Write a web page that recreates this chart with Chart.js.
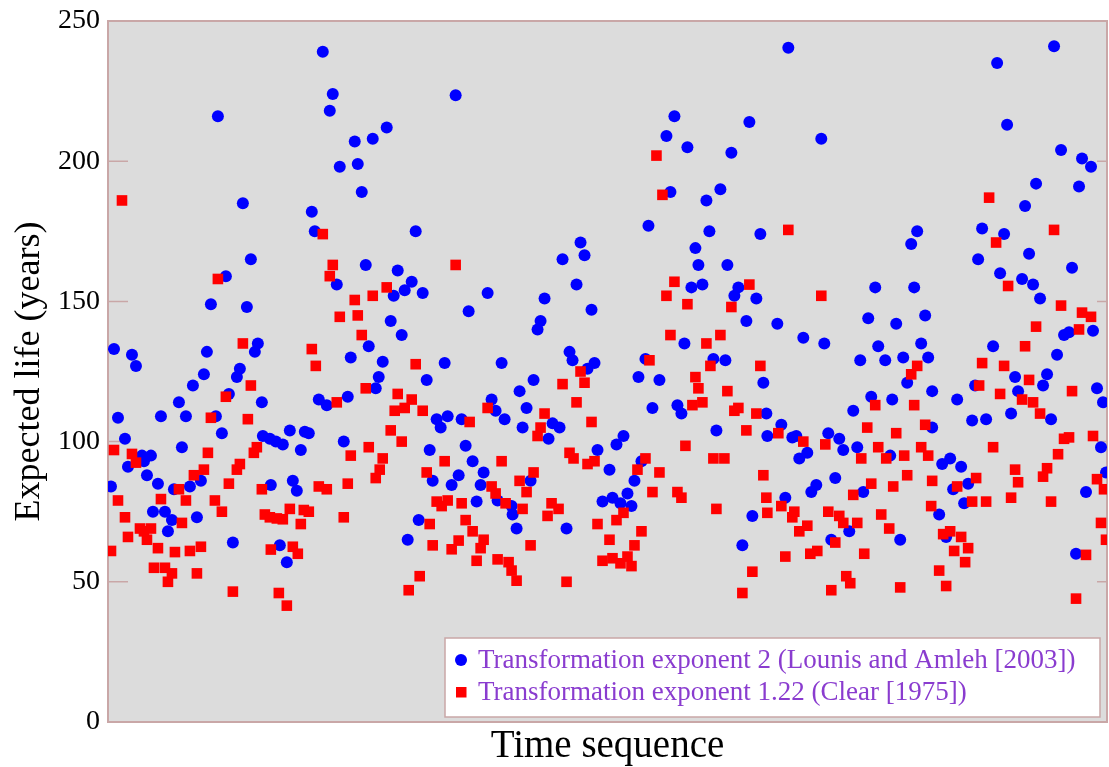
<!DOCTYPE html>
<html>
<head>
<meta charset="utf-8">
<title>Expected life</title>
<script src="https://cdn.jsdelivr.net/npm/chart.js@4"></script>
<style>
  html, body { margin: 0; padding: 0; background: #fff; }
  #wrap { width: 1109px; height: 767px; }
</style>
</head>
<body>
<div id="wrap"><canvas id="lifeChart" width="1109" height="767"></canvas></div>
<script>
// series labels
const blueLabel = 'Transformation exponent 2 (Lounis and Amleh [2003])';
const redLabel = 'Transformation exponent 1.22 (Clear [1975])';

// y axis ticks
const yTicks = [0, 50, 100, 150, 200, 250];

// blue circles: time step and expected life
const blueT = [110,135,143,118,103,139,
  6,24,28,99,150,147,96,132,129,85,121,71,154,10,53,78,108,114,17,155,162,74,34,43,36,20,39,93,50,3,66,82,163,45,57,64,89,60,125,
  215,225,222,279,265,247,250,232,254,204,207,308,258,290,229,304,297,286,315,283,
  294,261,243,275,271,319,268,211,219,240,329,182,197,201,168,175,193,236,322,325,185,189,311,300,172,179,
  348,473,477,455,469,380,361,437,484,433,430,
  337,394,462,465,487,480,426,412,384,419,388,333,340,354,397,415,445,452,441,358,490,365,376,351,344,373,423,369,390,404,405,495,409,459,
  567,642,559,580,624,563,613,599,541,602,653,588,591,620,584,595,631,627,649,639,
  577,538,606,618,531,552,656,545,570,574,659,609,660,516,509,534,502,527,520,505,513,524,645,635,
  681,714,810,804,768,807,670,761,789,818,
  696,717,771,814,753,778,796,821,800,825,764,785,746,825,674,685,689,721,700,692,732,736,750,783,728,709,704,756,678,742,793,724,
  947,890,900,954,975,984,929,972,918,875,897,922,871,893,915,926,965,933,962,986,
  957,886,950,908,940,936,850,868,911,990,996,865,879,904,944,994,843,835,854,999,861,846,979,857,832,839,969];
const blueLife = [216,185,165,159,149,148,
  133,131,127,132,135,132,124,126,123,120,117,114,114,108.5,109,109,109,103,101,102,101,98,95,95,93,91,88,86,85,84,83,84,84.5,75,75,72,73,68,64,
  239,224,218,212,208,207,199,198,189,182,175,175,163,161,156,157,154,152,153,143,
  138,134,130,128.5,123,122,119,115,113,116,108,104,103.5,103,100,99,97,100,97,86,86,82.5,72,65,63,57,
  223.5,171,166.5,165,156,153,146.5,151,147,143,140,
  128,128,132,129,128,126,122,118,115,112,111,105,109,108,108,105,106.5,105,101,98.5,97,93,89,88,84.5,84.5,86,78.6,79,77,74,78.6,69,69,
  216,214,209,205,203,189,190,186,177,175,174,169,163,163,155,156,155,152,151,143,
  135,129.5,129.5,129,123,122,121,112,113,110,110,104,102,102,99,93,90,86,81.5,80,78,77,73.5,63,
  240.5,208,175,170.5,155,155,142,144,142,145,
  137,135,134,135,129,129,130,130,121,118,116,115,111,105,106,101.5,102,103,96,94,101,97,98,95,87,84.5,82,82,80,68,65,65,
  241,235,213,204,201,198,192,191,184,176,174,167,165,160,158,156,162,151,139,139.5,
  138,134,131,123,124,120,115,120,118,119,114,107.5,108,110,108,98,94,92,91,89,85,83,82,78,74,66,60];

// red squares: time step and expected life
const redT = [14,110,
  135,143,118,103,140,6,149,146,100,24,28,96,132,129,86,121,71,154,10,53,78,107,114,17,74,157,162,32,36,43,20,39,50,3,67,82,93,163,46,57,64,60,89,125,
  215,225,222,279,265,247,232,250,
  254,204,208,308,258,290,229,304,297,287,315,283,294,261,243,275,272,268,319,211,219,240,169,175,182,196,201,193,236,329,322,325,185,190,171,179,312,301,
  348,
  473,477,455,469,380,362,437,433,430,484,462,466,480,487,337,394,426,412,384,388,419,334,340,354,398,415,444,451,440,358,365,490,376,373,351,344,423,369,390,401,404,409,459,495,
  549,555,567,559,580,642,624,
  563,599,613,542,603,653,588,591,620,585,595,631,627,649,639,578,538,606,617,530,552,656,545,570,574,659,516,509,609,660,534,502,527,505,513,520,524,645,635,
  681,714,
  810,804,768,807,760,789,818,671,696,718,754,771,779,797,814,821,800,764,786,825,746,674,687,685,721,732,736,750,700,692,774,782,824,728,703,710,678,757,739,743,724,793,
  882,889,947,901,954,975,984,929,972,
  918,875,897,922,872,893,915,926,933,965,957,962,986,886,951,940,936,908,911,869,990,997,850,865,879,904,944,994,836,843,854,861,847,999,858,979,832,839,969];
const redLife = [186,158,
  135,120,116,108.5,108,97,98,96,96,95.6,92.5,90,92,90,88,85,83,83,79,79.5,79,79,75,73,71,74,73,69,68,69,66,65,62,61,60.6,61,62.5,61.5,55,55,53,50,53,46.5,
  174,163,159,155,152,150.5,144.5,145,
  138,133,127,127.6,119,117,114,115,112,111,111,104,100,98,95,94,90,87,89,84,83,85,72.6,72.3,76,75.6,75,70.6,73,78.6,70.6,63,62.5,60,46,41.5,52,47,
  163,
  125,121,120.5,114,112,107,110,105,102,107,96,94,92,93,93,93,89,86,84,81.5,82,77,79,78,78,76,78,76,73.5,72,68,70.6,65,62,64.7,61.6,63,57.5,58,57,54,50.4,50,57.5,
  202,188,157,152,149,156,148,
  138,135,138,129,127,127,123,119,118,113,114,112,111,110,104,98.5,94,94,94,90,89,88,82,82,80,80,74.6,72,76,74.6,68,65,63,58.4,56.6,59,55.6,53.6,46,
  175.5,152,
  127,124,113,113,105,103,106,103,100,99,94,98,94,95,98,95,88,85,84,86,81,77,75,73,75,73.5,71,71,70,68,74,69,77,64,60,61,59,60,52,49.5,47,48,
  187,171,175.5,155.5,148.5,146,144.5,141,140,
  134,128,127,122,120,117,115,114,110,118,101,101.5,102,98,95.5,90.5,87.5,90,85.5,87,86.6,83,84,78.6,78.6,80,78.6,71,67,68,66,62,61,65,57,59.6,54,48.5,44];

const serif = '"Liberation Serif", "DejaVu Serif", serif';

// gray plot area, pink frame and short inner tick marks
const frame = {
  id: 'frame',
  beforeDraw(chart) {
    const {ctx, chartArea: a} = chart;
    ctx.save();
    ctx.fillStyle = '#ffffff';
    ctx.fillRect(0, 0, chart.width, chart.height);
    ctx.fillStyle = '#dcdcdc';
    ctx.fillRect(a.left, a.top, a.right - a.left, a.bottom - a.top);
    ctx.restore();
  },
  beforeDatasetsDraw(chart) {
    const {ctx, chartArea: a, scales} = chart;
    ctx.save();
    ctx.strokeStyle = '#c9a7a7';
    ctx.lineWidth = 2;
    ctx.strokeRect(a.left, a.top, a.right - a.left, a.bottom - a.top);
    ctx.lineWidth = 1.5;
    yTicks.forEach(v => {
      if (v === 0 || v === 250) return;
      const y = scales.y.getPixelForValue(v);
      ctx.beginPath();
      ctx.moveTo(a.left, y); ctx.lineTo(a.left + 20, y);
      ctx.moveTo(a.right - 10, y); ctx.lineTo(a.right, y);
      ctx.stroke();
    });
    ctx.restore();
  }
};

// boxed legend in the lower right corner
const boxLegend = {
  id: 'boxLegend',
  afterDatasetsDraw(chart) {
    const {ctx, chartArea: a} = chart;
    const w = 655, h = 79;
    const x0 = a.right - 7 - w, y0 = a.bottom - 5 - h;
    ctx.save();
    ctx.fillStyle = '#ffffff';
    ctx.fillRect(x0, y0, w, h);
    ctx.strokeStyle = '#c9a7a7';
    ctx.lineWidth = 1.5;
    ctx.strokeRect(x0, y0, w, h);
    const rows = [
      {label: blueLabel, color: '#0000ff', shape: 'circle', y: y0 + 22},
      {label: redLabel, color: '#ff0000', shape: 'rect', y: y0 + 54}
    ];
    rows.forEach(r => {
      ctx.fillStyle = r.color;
      if (r.shape === 'circle') {
        ctx.beginPath();
        ctx.arc(x0 + 16, r.y, 6, 0, Math.PI * 2);
        ctx.fill();
      } else {
        ctx.fillRect(x0 + 11, r.y - 5, 10.5, 10.5);
      }
      ctx.fillStyle = '#8a3ccf';
      ctx.font = '27px ' + serif;
      ctx.textBaseline = 'middle';
      ctx.fillText(r.label, x0 + 33, r.y + 1);
    });
    ctx.restore();
  }
};

function points(ts, vals) {
  return ts.map((t, i) => ({x: t, y: vals[i]}));
}

function noPadding(scale) {
  scale.paddingLeft = 0;
  scale.paddingRight = 0;
  scale.paddingTop = 0;
  scale.paddingBottom = 0;
}

const ctx = document.getElementById('lifeChart').getContext('2d');
new Chart(ctx, {
  type: 'scatter',
  data: {
    datasets: [{
      label: blueLabel,
      data: points(blueT, blueLife),
      pointStyle: 'circle',
      pointRadius: 6,
      backgroundColor: '#0000ff',
      borderWidth: 0,
      order: 1
    }, {
      label: redLabel,
      data: points(redT, redLife),
      pointStyle: 'rect',
      pointRadius: 7.5,
      backgroundColor: '#ff0000',
      borderWidth: 0,
      order: 0
    }]
  },
  options: {
    responsive: false,
    animation: false,
    devicePixelRatio: 1,
    layout: { autoPadding: false, padding: { top: 21, right: 2, left: 0, bottom: 0 } },
    plugins: {
      legend: { display: false },
      tooltip: { enabled: false }
    },
    scales: {
      x: {
        type: 'linear',
        min: 0,
        max: 1000,
        grid: { display: false, drawTicks: false },
        border: { display: false },
        ticks: { display: false },
        title: {
          display: true,
          text: 'Time sequence',
          color: '#000',
          font: { family: serif, size: 39 },
          padding: { top: 0, bottom: -3 }
        },
        afterFit(scale) {
          scale.height = 45;
          noPadding(scale);
        }
      },
      y: {
        min: 0,
        max: 250,
        grid: { display: false, drawTicks: false },
        border: { display: false },
        afterBuildTicks(scale) { scale.ticks = yTicks.map(v => ({value: v})); },
        ticks: {
          color: '#000',
          padding: 8,
          font: { family: serif, size: 28 }
        },
        title: {
          display: true,
          text: 'Expected life (years)',
          color: '#000',
          font: { family: serif, size: 36 },
          padding: { top: 8, bottom: 0 }
        },
        afterFit(scale) {
          scale.width = 108;
          noPadding(scale);
        }
      }
    }
  },
  plugins: [frame, boxLegend]
});
</script>
</body>
</html>
